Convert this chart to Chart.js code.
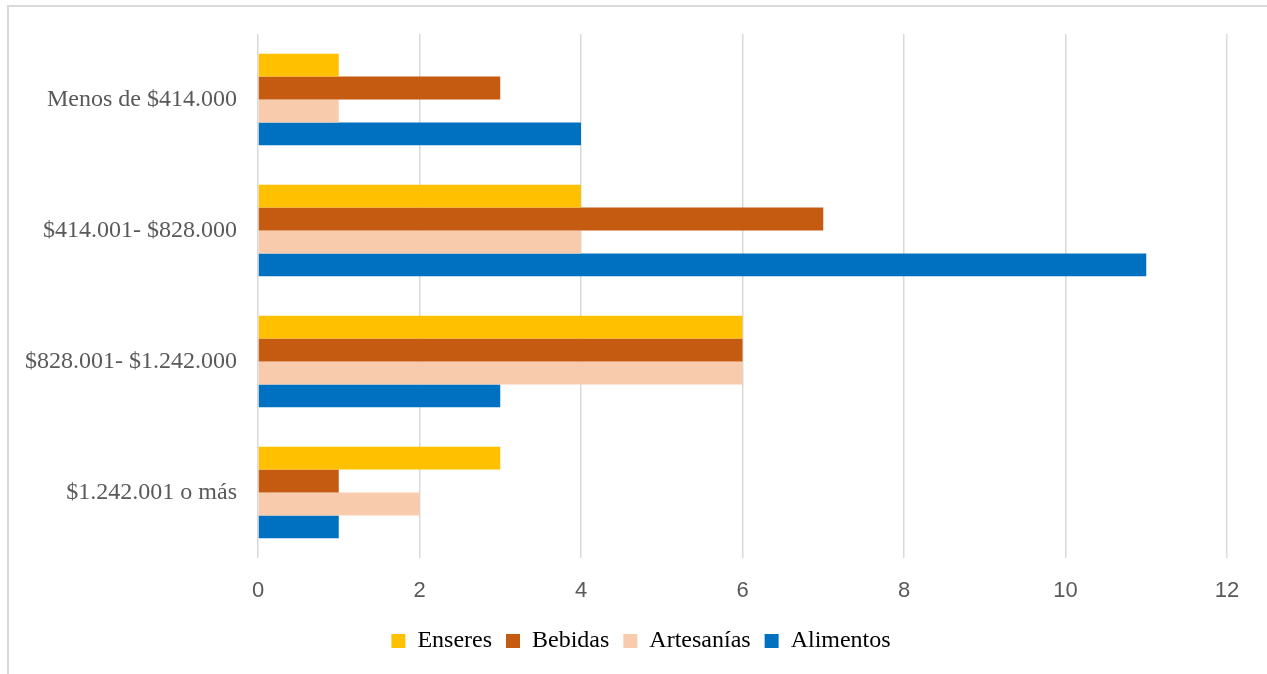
<!DOCTYPE html>
<html>
<head>
<meta charset="utf-8">
<script src="https://cdn.jsdelivr.net/npm/chart.js@4"></script>
<style>
  html, body { margin: 0; padding: 0; background: #fff; }
  #wrap { position: relative; width: 1267px; height: 674px; overflow: hidden; }
  #frame { position: absolute; left: 7px; top: 5px; width: 1300px; height: 700px;
           border-left: 2px solid #d9d9d9; border-top: 2px solid #d9d9d9; box-sizing: border-box; }
  #cv { position: absolute; left: 0; top: 0; }
</style>
</head>
<body>
<div id="wrap">
  <div id="frame"></div>
  <canvas id="cv" width="1267" height="674"></canvas>
</div>
<script>
const categories = ['Menos de $414.000', '$414.001- $828.000', '$828.001- $1.242.000', '$1.242.001 o más'];
const enseres = [1, 4, 6, 3];
const bebidas = [3, 7, 6, 1];
const artesanias = [1, 4, 6, 2];
const alimentos = [4, 11, 3, 1];
const xTicks = [0, 2, 4, 6, 8, 10, 12];

const serif = "'Liberation Serif', 'Times New Roman', serif";
const sans = "'Liberation Sans', Arial, sans-serif";

function ds(label, data, color) {
  return { label: label, data: data, backgroundColor: color, borderWidth: 0,
           barPercentage: 1, categoryPercentage: 0.7 };
}

new Chart(document.getElementById('cv'), {
  type: 'bar',
  data: {
    labels: categories,
    datasets: [
      ds('Enseres', enseres, '#FFC000'),
      ds('Bebidas', bebidas, '#C55A11'),
      ds('Artesanías', artesanias, '#F8CBAD'),
      ds('Alimentos', alimentos, '#0070C0')
    ]
  },
  options: {
    indexAxis: 'y',
    responsive: false,
    animation: false,
    layout: { padding: { left: 55, right: 40, top: 34, bottom: 11 } },
    plugins: {
      legend: {
        position: 'bottom',
        labels: {
          font: { family: serif, size: 24 },
          color: '#000',
          boxWidth: 14,
          boxHeight: 14,
          padding: 14
        }
      },
      tooltip: { enabled: false }
    },
    scales: {
      x: {
        min: 0,
        max: 12,
        afterBuildTicks: function (scale) {
          scale.ticks = xTicks.map(function (v) { return { value: v }; });
        },
        afterFit: function (scale) { scale.height = 57; },
        grid: { color: '#d9d9d9', lineWidth: 1.5, drawTicks: false },
        border: { display: false },
        ticks: { font: { family: sans, size: 22 }, color: '#595959', padding: 20 }
      },
      y: {
        afterFit: function (scale) {
          scale.width = 203;
          // long labels run into the left padding, don't clip them
          scale._computeLabelArea = function () { return undefined; };
        },
        grid: { display: false },
        border: { display: false },
        ticks: { font: { family: serif, size: 24 }, color: '#595959', padding: 13 }
      }
    }
  }
});
</script>
</body>
</html>
